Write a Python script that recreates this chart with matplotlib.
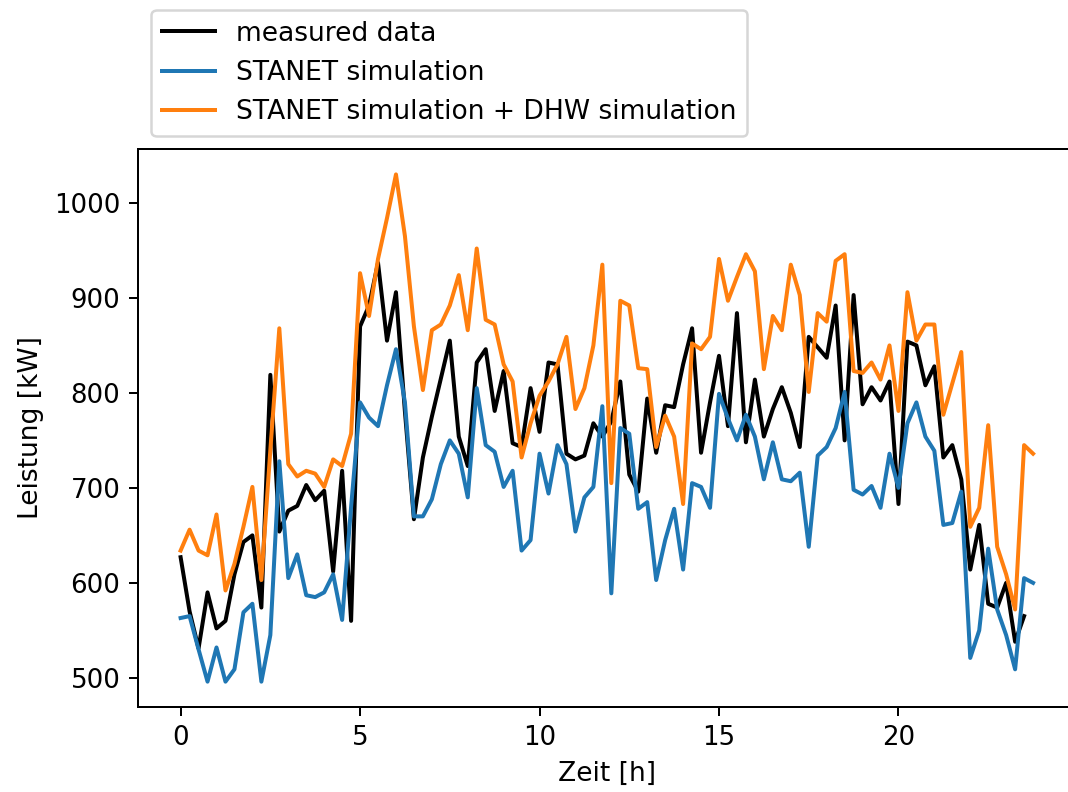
import numpy as np
import matplotlib
matplotlib.use("Agg")
import matplotlib.pyplot as plt

# 15-minute time steps over one day
zeit = np.arange(96) * 0.25

measured = [627, 570, 531, 590, 552, 560, 609, 643, 650, 574,
            819, 654, 676, 681, 703, 687, 697, 612, 718, 560,
            870, 892, 937, 855, 906, 780, 667, 732, 775, 815,
            855, 754, 723, 832, 846, 781, 823, 747, 743, 805,
            759, 832, 830, 736, 730, 734, 768, 754, 770, 812,
            714, 696, 794, 737, 787, 785, 830, 868, 737, 790,
            839, 765, 884, 748, 814, 754, 783, 806, 779, 743,
            859, 848, 837, 892, 750, 903, 788, 806, 792, 812,
            683, 854, 850, 808, 828, 732, 745, 709, 614, 661,
            578, 574, 600, 538, 565]

stanet = [563, 565, 530, 496, 532, 496, 509, 569, 578, 496,
          545, 728, 605, 630, 587, 585, 590, 609, 561, 680,
          790, 774, 765, 808, 846, 790, 670, 670, 688, 725,
          750, 736, 690, 805, 745, 738, 701, 718, 634, 645,
          736, 694, 745, 725, 654, 690, 701, 786, 589, 763,
          757, 678, 685, 603, 645, 678, 614, 705, 701, 679,
          799, 773, 750, 777, 754, 709, 748, 709, 707, 716,
          638, 734, 743, 763, 801, 698, 693, 702, 679, 736,
          700, 768, 790, 754, 739, 661, 663, 696, 521, 550,
          636, 572, 545, 509, 605, 600]

stanet_dhw = [634, 656, 634, 629, 672, 592, 620, 659, 701, 603,
              740, 868, 725, 712, 718, 715, 701, 730, 723, 757,
              926, 881, 941, 984, 1030, 965, 870, 803, 866, 872,
              892, 924, 866, 952, 877, 872, 830, 812, 732, 768,
              797, 812, 830, 859, 783, 805, 850, 935, 705, 897,
              892, 826, 825, 743, 776, 754, 683, 852, 846, 859,
              941, 897, 922, 946, 928, 825, 881, 866, 935, 903,
              801, 884, 875, 939, 946, 823, 821, 832, 814, 850,
              781, 906, 855, 872, 872, 777, 810, 843, 659, 679,
              766, 638, 609, 572, 745, 736]

plt.rcParams['font.size'] = 10.6
plt.rcParams['xtick.labelsize'] = 10.4
plt.rcParams['ytick.labelsize'] = 10.4

fig = plt.figure(figsize=(1068 / 180, 792 / 180), dpi=180)
# axes run past the right edge of the picture, as in the cropped original
ax = fig.add_axes([0.1292, 0.1073, 0.878, 0.7045])

ax.plot(zeit[:len(measured)], measured, color="black", lw=1.6, label="measured data")
ax.plot(zeit, stanet, color="tab:blue", lw=1.6, label="STANET simulation")
ax.plot(zeit, stanet_dhw, color="tab:orange", lw=1.6, label="STANET simulation + DHW simulation")

ax.set_xlabel("Zeit [h]")
ax.set_ylabel("Leistung [kW]")
ax.set_xticks([0, 5, 10, 15, 20])
ax.set_yticks([500, 600, 700, 800, 900, 1000])
ax.legend(loc="lower left", bbox_to_anchor=(0, 1))

fig.savefig("out.png", dpi=180)
